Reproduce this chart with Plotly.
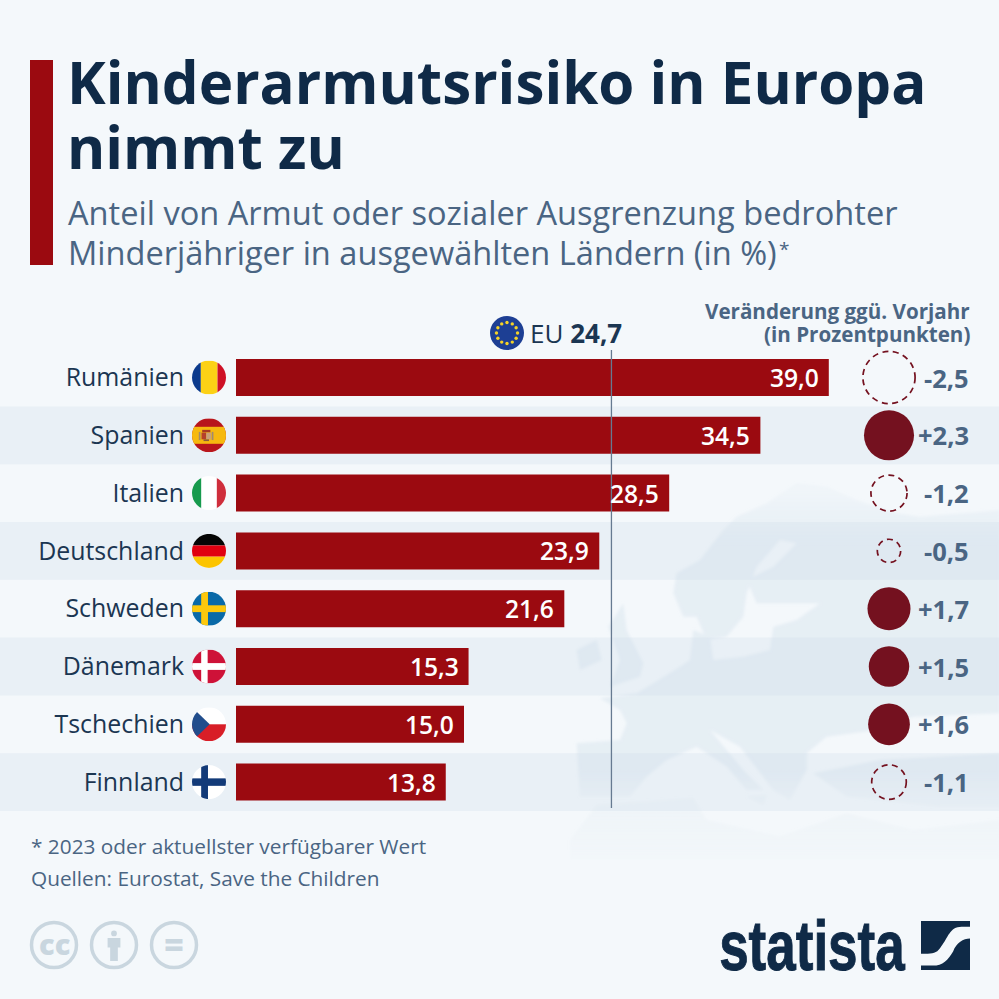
import base64, math
import plotly.graph_objects as go

# ---------- data ----------
countries = ["Rumänien", "Spanien", "Italien", "Deutschland", "Schweden", "Dänemark", "Tschechien", "Finnland"]
shares = [39.0, 34.5, 28.5, 23.9, 21.6, 15.3, 15.0, 13.8]
changes = [-2.5, 2.3, -1.2, -0.5, 1.7, 1.5, 1.6, -1.1]
eu_average = 24.7
title_lines = ["Kinderarmutsrisiko in Europa", "nimmt zu"]
subtitle_lines = ["Anteil von Armut oder sozialer Ausgrenzung bedrohter",
                  "Minderjähriger in ausgewählten Ländern (in %)"]
change_header = ["Veränderung ggü. Vorjahr", "(in Prozentpunkten)"]
notes = ["* 2023 oder aktuellster verfügbarer Wert", "Quellen: Eurostat, Save the Children"]

# ---------- styles ----------
BG = "#f4f8fb"
BAND = "rgba(205,219,234,0.28)"
RED = "#9b0a10"
DARKRED = "#74111f"
NAVY = "#0f2a47"
LABEL = "#1b3652"
SLATE = "#4a6583"
ICON = "#c9d6df"
FONT = "Open Sans"

W = 999
PX_PER_UNIT = 15.2
BAR_LEFT = 236
ROW0 = 377.5
ROW_H = 57.8
COL_X = 889


def px(x):
    return x / W


def py(y):
    return 1 - y / W


def uri(svg):
    return "data:image/svg+xml;base64," + base64.b64encode(svg.encode()).decode()


def flag(body, defs=""):
    return uri(
        '<svg xmlns="http://www.w3.org/2000/svg" viewBox="0 0 100 100" width="200" height="200">'
        '<defs><clipPath id="c"><circle cx="50" cy="50" r="50"/></clipPath>' + defs + '</defs>'
        '<g clip-path="url(#c)"><rect width="100" height="100" fill="#fff"/>' + body + '</g></svg>')


def r(x, y, w, h, c):
    return f'<rect x="{x}" y="{y}" width="{w}" height="{h}" fill="{c}"/>'


flags = {
    "Rumänien": r(0, 0, 26, 100, "#0b3a8c") + r(26, 0, 49, 100, "#fcd116") + r(75, 0, 25, 100, "#ce1126"),
    "Spanien": r(0, 0, 100, 100, "#b8161c") + r(0, 25, 100, 50, "#f6b90f")
               + r(28, 42, 14, 20, "#b5402a") + r(42, 42, 14, 20, "#c9a07a") + r(20, 40, 5, 24, "#a08a70")
               + r(58, 40, 5, 24, "#a08a70") + r(30, 34, 24, 7, "#a83a22") + r(34, 62, 16, 5, "#8c5a3c"),
    "Italien": r(0, 0, 27, 100, "#169a4d") + r(73, 0, 27, 100, "#cf2e3c"),
    "Deutschland": r(0, 0, 100, 34, "#050505") + r(0, 34, 100, 33, "#e00010") + r(0, 67, 100, 33, "#fcc400"),
    "Schweden": r(0, 0, 100, 100, "#0a6aa8") + r(27, 0, 20, 100, "#fdc80c") + r(0, 40, 100, 20, "#fdc80c"),
    "Dänemark": r(0, 0, 100, 100, "#ce1238") + r(27, 0, 19, 100, "#fff") + r(0, 40, 100, 20, "#fff"),
    "Tschechien": r(0, 50, 100, 50, "#d81e27") + '<path d="M0 0 L52 50 L0 100Z" fill="#214d8c"/>',
    "Finnland": r(27, 0, 20, 100, "#123a78") + r(0, 39, 100, 22, "#123a78"),
}

stars = "".join(
    f'<circle cx="{50 + 31 * math.cos(k * math.pi / 6):.1f}" cy="{50 + 31 * math.sin(k * math.pi / 6):.1f}" r="5" fill="#f5d327"/>'
    for k in range(12))
eu_flag = flag(r(0, 0, 100, 100, "#1d3f94") + stars)

# decorative map silhouette, drawn in a 519x540 viewport scaled by 3
map_svg = uri(f'''<svg xmlns="http://www.w3.org/2000/svg" viewBox="0 0 {W} {W}" width="{W}" height="{W}">
<defs><linearGradient id="g" gradientUnits="userSpaceOnUse" x1="0" y1="0" x2="0" y2="1620">
<stop offset="0" stop-color="#b9cfdf" stop-opacity="0.04"/><stop offset="0.28" stop-color="#b9cfdf" stop-opacity="0.08"/>
<stop offset="0.38" stop-color="#b9cfdf" stop-opacity="0.24"/>
<stop offset="0.80" stop-color="#b9cfdf" stop-opacity="0.24"/><stop offset="0.85" stop-color="#c4d4de" stop-opacity="0.12"/>
<stop offset="0.92" stop-color="#c4d4de" stop-opacity="0.07"/>
<stop offset="1" stop-color="#c4d4de" stop-opacity="0"/></linearGradient>
<filter id="b" x="-5%" y="-5%" width="110%" height="110%"><feGaussianBlur stdDeviation="5"/></filter></defs>
<g transform="translate(480 340) scale(0.3333)" fill="url(#g)" filter="url(#b)">
<path d="M290 1210 L420 1200 L440 1150 L420 1110 L360 1075 L470 1060 L520 1030 L600 980 L630 960 L640 870 L690 890 L700 960
L790 950 L870 930 L880 860 L950 840 L1020 790 L900 790 L830 790 L800 720 L880 680 L950 610 L900 600 L830 680 L800 760 L790 830 L740 890
L680 900 L650 830 L610 830 L580 760 L590 700 L660 660 L730 570 L770 530 L860 490 L950 430 L1040 440 L1130 480 L1250 520
L1320 530 L1560 510 L1560 1120 L1300 1130 L1190 1170 L1040 1190 L980 1240 L980 1290 L930 1380 L880 1350 L780 1220 L690 1170
L790 1290 L850 1350 L800 1350 L740 1280 L650 1220 L560 1260 L500 1310 L450 1370 L300 1370 Z"/>
<path d="M290 930 L350 900 L365 960 L300 990 Z"/>
<path d="M385 860 L430 790 L440 870 L490 970 L480 1010 L390 1040 L420 960 Z"/>
<path d="M1000 1300 L1200 1260 L1560 1240 L1560 1400 L1380 1400 L1100 1370 Z"/>
<path d="M270 1500 L350 1395 L640 1375 L680 1440 L900 1490 L1100 1420 L1300 1470 L1560 1440 L1560 1560 L270 1560 Z"/>
<path d="M800 1370 L860 1365 L850 1395 Z"/>
</g></svg>''')

logo_svg = uri('''<svg xmlns="http://www.w3.org/2000/svg" viewBox="0 0 145 145" width="290" height="290"><g fill="#0f2a47">
<path d="M0 0 H145 V17 H120 C85 17 80 50 60 75 C50 92 40 97 20 97 H0 Z"/>
<path d="M0 132 H35 C65 132 80 115 95 90 C105 65 125 52 145 52 V145 H0 Z"/></g></svg>''')

person_svg = uri(f'''<svg xmlns="http://www.w3.org/2000/svg" viewBox="0 0 100 100" width="200" height="200"><g fill="{ICON}">
<circle cx="50" cy="14" r="9"/><path d="M30 28 H70 V58 H62 V100 H38 V58 H30 Z"/></g></svg>''')

# ---------- figure ----------
fig = go.Figure()

fig.add_trace(go.Bar(
    x=shares, y=countries, orientation="h", marker=dict(color=RED, line=dict(width=0)),
    hoverinfo="skip", showlegend=False, width=0.64))

pos_x = [COL_X for c in changes if c > 0]
pos_y = [n for n, c in zip(countries, changes) if c > 0]
pos_s = [33 * math.sqrt(c) for c in changes if c > 0]
fig.add_trace(go.Scatter(
    x=pos_x, y=pos_y, mode="markers", xaxis="x2", showlegend=False, hoverinfo="skip",
    marker=dict(size=pos_s, sizemode="diameter", color=DARKRED, opacity=1, line=dict(width=0))))

shapes = []
annotations = []
images = []

images.append(dict(source=map_svg, xref="paper", yref="paper", x=0, y=1, sizex=1, sizey=1,
                   xanchor="left", yanchor="top", sizing="stretch", layer="below"))

# alternating bands
for i in range(1, len(countries), 2):
    shapes.append(dict(type="rect", xref="paper", yref="y", x0=0, x1=1, y0=i - 0.5, y1=i + 0.5,
                       fillcolor=BAND, line=dict(width=0), layer="below"))

# accent bar
shapes.append(dict(type="rect", xref="paper", yref="paper", x0=px(30), x1=px(53), y0=py(60), y1=py(265),
                   fillcolor=RED, line=dict(width=0), layer="below"))

# EU average line
shapes.append(dict(type="line", xref="x", yref="paper", x0=eu_average, x1=eu_average, y0=py(350), y1=py(808),
                   line=dict(color="#667a91", width=1.3), layer="above"))

# dashed circles for decreases
for n, c in zip(countries, changes):
    if c < 0:
        rad = 33 * math.sqrt(-c) / 2
        shapes.append(dict(type="circle", xref="x2", yref="y", xsizemode="pixel", ysizemode="pixel",
                           xanchor=COL_X, yanchor=n, x0=-rad, x1=rad, y0=-rad, y1=rad,
                           line=dict(color=DARKRED, width=1.7, dash="6px,4.5px"), layer="above"))


def text(t, x, y, size, color, anchor="left", weight=400, yanchor="middle", xref="paper", yref="paper", xshift=0, family=FONT):
    annotations.append(dict(text=t, x=x, y=y, xref=xref, yref=yref, xanchor=anchor, yanchor=yanchor,
                            showarrow=False, xshift=xshift, align=anchor if anchor != "center" else "center",
                            font=dict(family=family, size=size, color=color, weight=weight)))


for t, y in zip(title_lines, [81.5, 146]):
    text(t, px(65), py(y), 58.3, NAVY, weight=700)
for t, y in zip(subtitle_lines, [212, 252.5]):
    text(t, px(65.5), py(y), 32.6, SLATE)
text("*", px(777), py(249), 19, SLATE)
for t, y in zip(change_header, [311, 334]):
    text(t, px(972), py(y), 20.6, SLATE, anchor="right", weight=700)
for t, y in zip(notes, [846, 878]):
    text(t, px(28.5), py(y), 20.8, SLATE)

for n, v, c in zip(countries, shares, changes):
    text(f"{v:.1f}".replace(".", ","), v, n, 24.6, "#ffffff", anchor="right", weight=600, xref="x", yref="y", xshift=-8)
    text(f"{c:+.1f}".replace(".", ","), px(971), n, 25.5, SLATE, anchor="right", weight=700, yref="y")

# EU label
images.append(dict(source=eu_flag, xref="paper", yref="paper", x=px(507), y=py(333), sizex=px(34), sizey=34 / W,
                   xanchor="center", yanchor="middle", sizing="stretch", layer="above"))
text(f"EU <b>{eu_average:.1f}</b>".replace(".", ","), px(528), py(333), 26, LABEL)

# flags
for i, n in enumerate(countries):
    images.append(dict(source=flag(flags[n]), xref="paper", yref="y", x=px(209), y=i, sizex=px(34), sizey=34 / ROW_H,
                       xanchor="center", yanchor="middle", sizing="stretch", layer="above"))

# licence icons
for cx in [54, 114, 174]:
    shapes.append(dict(type="circle", xref="paper", yref="paper", x0=px(cx - 22.5), x1=px(cx + 22.5),
                       y0=py(945 + 22.5), y1=py(945 - 22.5), line=dict(color=ICON, width=3.5), layer="below"))
text("cc", px(54), py(943), 29, ICON, anchor="center", weight=800)
text("=", px(174), py(944), 34, ICON, anchor="center", weight=800)
images.append(dict(source=person_svg, xref="paper", yref="paper", x=px(114), y=py(945), sizex=px(32), sizey=32 / W,
                   xanchor="center", yanchor="middle", sizing="stretch", layer="above"))

# statista logo (condensed horizontally after drawing, see post_script)
text("statista", px(907), py(945), 71, NAVY, anchor="right", weight=700, family="Liberation Sans")
images.append(dict(source=logo_svg, xref="paper", yref="paper", x=px(921), y=py(921), sizex=px(49), sizey=49 / W,
                   xanchor="left", yanchor="top", sizing="stretch", layer="above"))

fig.update_layout(
    width=W, height=W, margin=dict(l=0, r=0, t=0, b=0), paper_bgcolor=BG, plot_bgcolor="rgba(0,0,0,0)",
    showlegend=False, bargap=0.36, font=dict(family=FONT),
    xaxis=dict(visible=False, range=[-BAR_LEFT / PX_PER_UNIT, (W - BAR_LEFT) / PX_PER_UNIT], domain=[0, 1], fixedrange=True),
    xaxis2=dict(visible=False, range=[0, W], overlaying="x", domain=[0, 1], fixedrange=True),
    yaxis=dict(type="category", categoryorder="array", categoryarray=countries,
               range=[(W - ROW0) / ROW_H, -ROW0 / ROW_H], domain=[0, 1], anchor="free", position=px(184),
               showgrid=False, zeroline=False, showline=False, ticks="", fixedrange=True,
               tickfont=dict(family=FONT, size=24.9, color=LABEL)),
    shapes=shapes, annotations=annotations, images=images)

condense = """
document.body.style.margin='0';document.body.style.overflow='hidden';
var t=Array.from(document.querySelectorAll('.annotation-text')).find(function(e){return e.textContent==='statista';});
if(t){var b=t.getBBox();var cx=b.x+b.width;var s=186/b.width;
t.setAttribute('transform','translate('+cx+' 0) scale('+s+' 1) translate('+(-cx)+' 0)');
t.style.stroke='#0f2a47';t.style.strokeWidth='1px';}
"""
fig.write_html("out.html", config=dict(displayModeBar=False), post_script=condense)
